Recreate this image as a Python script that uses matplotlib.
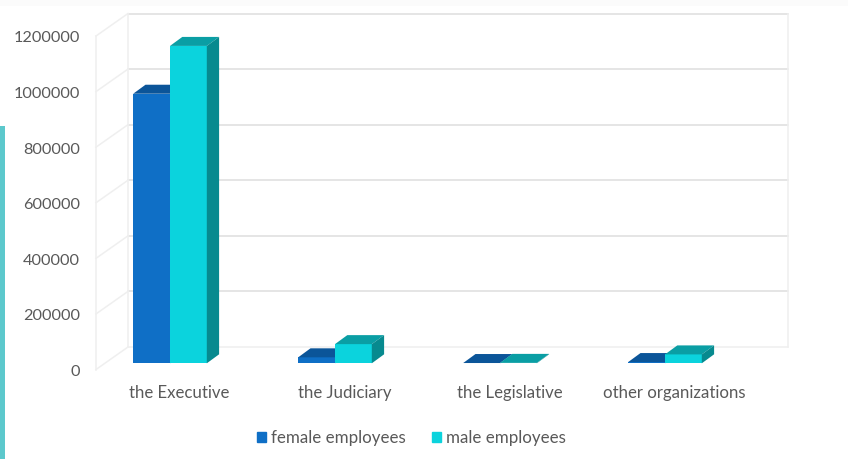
import numpy as np
import matplotlib.pyplot as plt
from matplotlib.patches import Polygon, Rectangle
from matplotlib.transforms import Affine2D, IdentityTransform

# --- Data ---
categories = ["the Executive", "the Judiciary", "the Legislative", "other organizations"]
female = [970000, 21500, 1000, 4500]
male = [1142000, 69000, 1500, 32000]
yticks = [0, 200000, 400000, 600000, 800000, 1000000, 1200000]

# --- Colours: front, top, side ---
FEMALE = ("#0F6FC6", "#0B5599", "#0B5599")
MALE = ("#0BD3DD", "#0A9EA4", "#078A8F")
TEXT = "#595959"
GRID = "#DEDEDE"

W, H = 848, 459
plt.rcParams["font.family"] = ["Lato", "DejaVu Sans"]
fig = plt.figure(figsize=(W / 100, H / 100), dpi=100)

# accent strip on the left of the slide, faint band on top
fig.add_artist(Rectangle((0, 0), 5 / W, (H - 126) / H, transform=fig.transFigure, color="#5CC8CC", lw=0))
fig.add_artist(Rectangle((0, (H - 6) / H), 1, 6 / H, transform=fig.transFigure, color="#FBFBFB", lw=0))

# axes = front plane of the fake 3D box, in pixels
left, right, bottom, top = 96, 756, 369.5, 36
ax = fig.add_axes([left / W, (H - bottom) / H, (right - left) / W, (bottom - top) / H])
ax.patch.set_alpha(0)
ax.set_xlim(-0.5, 3.5)
ax.set_ylim(0, 1200000)
ax.set_xticks(range(4), categories)
ax.set_yticks(yticks, [str(v) for v in yticks])
ax.tick_params(length=0, colors=TEXT, labelsize=12.1)
ax.tick_params(axis="y", labelsize=11.7, pad=11.5)
ax.tick_params(axis="x", pad=11.5)
for s in ax.spines.values():
    s.set_visible(False)

# nudge tick labels by a pixel
for lbl in ax.get_yticklabels():
    lbl.set_transform(lbl.get_transform() + Affine2D().translate(0, -1))
for lbl in ax.get_xticklabels():
    lbl.set_transform(lbl.get_transform() + Affine2D().translate(1, 0))

# --- Walls ---
back = ax.transData + Affine2D().translate(32, 22.5)
for v in yticks:
    col = "#EFEFEF" if v == 0 else GRID
    ax.plot([-0.5, 3.5], [v, v], color=col, lw=1.1, transform=back, clip_on=False, zorder=1)
    p0 = ax.transData.transform((-0.5, v))
    p1 = back.transform((-0.5, v))
    ax.plot([p0[0], p1[0]], [p0[1], p1[1]], color="#EFEFEF", lw=1.1,
            transform=IdentityTransform(), clip_on=False, zorder=1)
ax.plot([-0.5, -0.5], [0, 1200000], color="#EFEFEF", lw=1.1, clip_on=False, zorder=1)
ax.plot([-0.5, -0.5], [0, 1200000], color="#EFEFEF", lw=1.1, transform=back, clip_on=False, zorder=1)
ax.plot([3.5, 3.5], [0, 1200000], color="#EFEFEF", lw=1.1, transform=back, clip_on=False, zorder=1)

# --- Bars ---
plane = ax.transData + Affine2D().translate(-8.5, 6.2)
bar_w = 36.8 / 165
OFF = np.array((12.3, 9))


def draw_bar(x, height, colours, z):
    tl = plane.transform((x, height))
    tr = plane.transform((x + bar_w, height))
    lo = plane.transform((x + bar_w, 0))
    ax.add_patch(Rectangle((x, 0), bar_w, height, facecolor=colours[0], lw=0, transform=plane, zorder=z, clip_on=False))
    ax.add_patch(Polygon([tl, tr, tr + OFF, tl + OFF], facecolor=colours[1], lw=0,
                         transform=IdentityTransform(), zorder=z, clip_on=False))
    ax.add_patch(Polygon([tr, lo, lo + OFF, tr + OFF], facecolor=colours[2], lw=0,
                         transform=IdentityTransform(), zorder=z, clip_on=False))


for i in range(4):
    draw_bar(i - bar_w, female[i], FEMALE, 3)
    draw_bar(i, male[i], MALE, 4)

# --- Legend ---
handles = [Rectangle((0, 0), 1, 1, color=FEMALE[0]), Rectangle((0, 0), 1, 1, color=MALE[0])]
fig.legend(handles, ["female employees", "male employees"], ncol=2, frameon=False,
           loc="center", bbox_to_anchor=(411.5 / W, (H - 438) / H), fontsize=12.2, labelcolor=TEXT,
           handlelength=0.56, handleheight=0.56, handletextpad=0.31, columnspacing=1.5)

fig.savefig("out.png", dpi=100)
